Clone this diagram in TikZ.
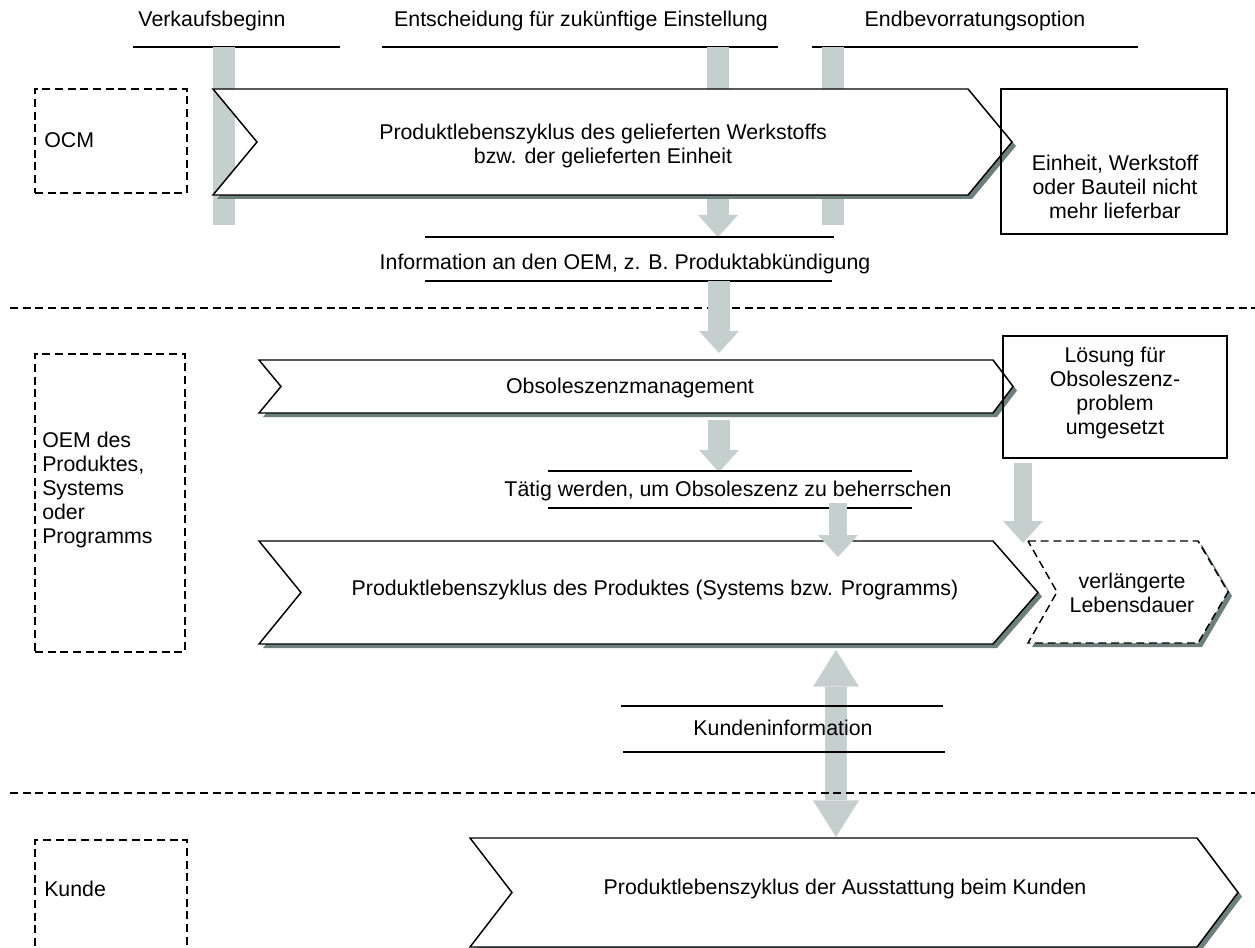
\documentclass[tikz,border=0pt]{standalone}
\usepackage{fontspec}
\setmainfont{Liberation Sans}
\usetikzlibrary{arrows.meta}

\definecolor{barcol}{HTML}{C5CFCD}
\definecolor{shadecol}{HTML}{6E807E}

\tikzset{
  lbl/.style={font=\fontsize{16}{18}\selectfont, inner sep=0pt, align=center},
  lbll/.style={font=\fontsize{16}{18}\selectfont, inner sep=0pt, align=left, anchor=west},
  boxline/.style={draw, line width=1.1pt},
  dashline/.style={line width=1.1pt, dash pattern=on 6pt off 3.5pt},
  rulel/.style={line width=1.1pt},
  chevline/.style={draw, fill=white, line width=1.1pt, line join=miter},
  bar/.style={draw=barcol, line width=16.5pt},
  thinbar/.style={draw=barcol, line width=14pt},
  flow/.style={-{Triangle[length=16.5pt, width=30pt, line width=0pt, fill=barcol]}},
  bothflow/.style={{Triangle[length=27.5pt, width=34.5pt, line width=0pt, fill=barcol]}-{Triangle[length=27.5pt, width=34.5pt, line width=0pt, fill=barcol]}}
}

% chevron with a drop shadow
% #1 extra style, #2 left x, #3 notch x, #4 corner x, #5 tip x, #6 top y, #7 bottom y
\newcommand\chevron[7][]{%
  \fill[shadecol] ({#2+4},{#6+4}) -- ({#4+4},{#6+4}) -- ({#5+4},{(#6+#7)/2+4})
     -- ({#4+4},{#7+4}) -- ({#2+4},{#7+4}) -- ({#3+4},{(#6+#7)/2+4}) -- cycle;
  \draw[chevline,#1] (#2,#6) -- (#4,#6) -- (#5,{(#6+#7)/2})
     -- (#4,#7) -- (#2,#7) -- (#3,{(#6+#7)/2}) -- cycle;
}

\begin{document}
\begin{tikzpicture}[x=0.75pt,y=-0.75pt]
\useasboundingbox (0,0) rectangle (1255,948);
\clip (0,0) rectangle (1255,948);

% ---------- milestone labels at the top ----------
\node[lbl] (start) at (212,21) {Verkaufsbeginn};
\node[lbl] (decide) at (581,21) {Entscheidung für zukünftige Einstellung};
\node[lbl] (lastbuy) at (975,21) {Endbevorratungsoption};
\draw[rulel] (133,47) -- (340,47);
\draw[rulel] (382,47) -- (778,47);
\draw[rulel] (812,47) -- (1138,47);

% milestone bars
\coordinate (b1s) at (224,47);  \coordinate (b1e) at (224,225);
\coordinate (b2s) at (718,47);  \coordinate (b2e) at (718,237);
\coordinate (b3s) at (833,47);  \coordinate (b3e) at (833,225);
\draw[bar] (b1s) -- (b1e);
\draw[bar,flow] (b2s) -- (b2e);
\draw[bar] (b3s) -- (b3e);

% ---------- OCM lane ----------
\node[draw, dashline, minimum width=152*0.75pt, minimum height=104*0.75pt, inner sep=0pt]
  (ocmbox) at (111,141) {};
\node[lbll] (ocm) at (44,140) {OCM};

\chevron{213}{257}{968}{1012}{89}{195}
\node[lbl] (ocmlife) at (603,146) {Produktlebenszyklus des gelieferten Werkstoffs\\bzw. der gelieferten Einheit};

\node[boxline, minimum width=226*0.75pt, minimum height=145*0.75pt, inner sep=0pt]
  (eol) at (1114,161.5) {};
\node[lbl] (eoltext) at (1115,187) {Einheit, Werkstoff\\oder Bauteil nicht\\mehr lieferbar};

% notice to the OEM
\draw[rulel] (425,237) -- (834,237);
\node[lbl] (notice) at (625,264) {Information an den OEM, z. B. Produktabkündigung};
\draw[rulel] (425,281) -- (832,281);

% lane separator
\draw[dashline] (10,308) -- (1255,308);

% ---------- OEM lane ----------
\node[draw, dashline, minimum width=150*0.75pt, minimum height=298*0.75pt, inner sep=0pt]
  (oembox) at (110,503) {};
\node[lbll] (oem) at (42,490) {OEM des\\Produktes,\\Systems\\oder\\Programms};

\coordinate (n1s) at (719,281); \coordinate (n1e) at (719,353);
\draw[bar,flow] (n1s) -- (n1e);

\chevron{259}{281}{993}{1013}{360}{413}
\node[lbl] (obsmgmt) at (630,388) {Obsoleszenzmanagement};

\node[boxline, minimum width=224*0.75pt, minimum height=122*0.75pt, inner sep=0pt]
  (solved) at (1115,397) {};
\node[lbl] (solvedtext) at (1115,393) {Lösung für\\Obsoleszenz-\\problem\\umgesetzt};

\coordinate (n2s) at (719,420); \coordinate (n2e) at (719,472);
\draw[bar,flow] (n2s) -- (n2e);

\draw[rulel] (548,471) -- (912,471);
\draw[rulel] (548,508) -- (912,508);
\node[lbl] (act) at (728,491) {Tätig werden, um Obsoleszenz zu beherrschen};

\chevron{259}{301}{993}{1038}{541}{644}
\node[lbl] (prodlife) at (655,590) {Produktlebenszyklus des Produktes (Systems bzw. Programms)};

\chevron[dashline]{1028}{1057}{1198}{1228}{541}{643}
\node[lbl] (ext) at (1132,593) {verlängerte\\Lebensdauer};

% arrows into the product lane, drawn over the chevron tops
\coordinate (n3s) at (838,503); \coordinate (n3e) at (838,557);
\draw[thinbar,flow] (n3s) -- (n3e);

\coordinate (n4s) at (1023,463); \coordinate (n4e) at (1023,543);
\draw[thinbar,flow] (n4s) -- (n4e);

% customer information, double arrow behind rules and text
\coordinate (n5s) at (836,650); \coordinate (n5e) at (836,837);
\draw[bar,bothflow] (n5s) -- (n5e);

\draw[rulel] (621,706) -- (943,706);
\draw[rulel] (623,752) -- (945,752);
\node[lbl] (custinfo) at (783,728) {Kundeninformation};

% lane separator
\draw[dashline] (10,793) -- (1255,793);

% ---------- customer lane ----------
\node[draw, dashline, minimum width=152*0.75pt, minimum height=130*0.75pt, inner sep=0pt]
  (custbox) at (111,905) {};
\node[lbll] (cust) at (44,889) {Kunde};

\chevron{470}{512}{1197}{1238}{838}{947}
\node[lbl] (custlife) at (845,889) {Produktlebenszyklus der Ausstattung beim Kunden};

\end{tikzpicture}
\end{document}
